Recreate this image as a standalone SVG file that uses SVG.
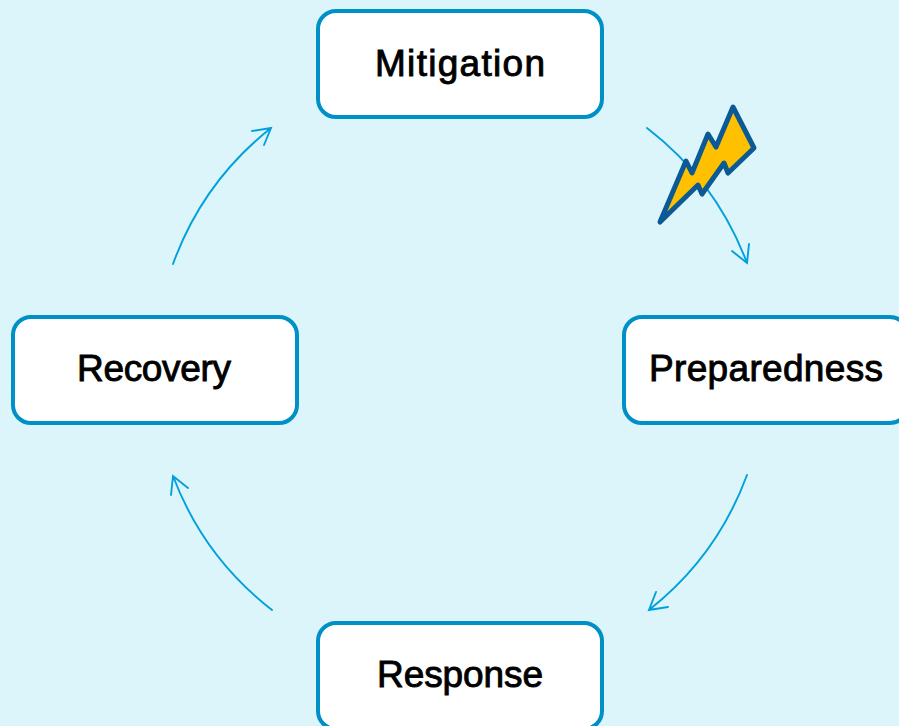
<svg xmlns="http://www.w3.org/2000/svg" width="899" height="726" viewBox="0 0 899 726">
<style>
.box{fill:#fff;stroke:#0090C8;stroke-width:4}
.lbl{font-family:"Liberation Sans",Arial,sans-serif;font-size:37px;fill:#000;text-anchor:middle;stroke:#000;stroke-width:.9}
.arc{fill:none;stroke:#00A0DC;stroke-width:1.9;stroke-linecap:round;stroke-linejoin:miter}
</style>
<rect width="899" height="726" fill="#DBF5FA"/>
<g id="connectors">
<path class="arc" d="M647 128A306.500 306.500 0 0 1 747 263M732 251L747 263L749 244"/>
<path class="arc" d="M747 475A306.500 306.500 0 0 1 649 610M656 592L649 610L668 607"/>
<path class="arc" d="M272 610A306.500 306.500 0 0 1 173 476M171 495L173 476L188 488"/>
<path class="arc" d="M173 264A306.500 306.500 0 0 1 271 128M252 131L271 128L264 145"/>
</g>
<g id="mitigation"><rect class="box" x="318" y="11" width="284" height="106" rx="18"/><text class="lbl" x="460" y="76" textLength="170">Mitigation</text></g>
<g id="preparedness"><rect class="box" x="624" y="317" width="284" height="106" rx="18"/><text class="lbl" x="766" y="381" textLength="234">Preparedness</text></g>
<g id="response"><rect class="box" x="318" y="623" width="284" height="106" rx="18"/><text class="lbl" x="460" y="687" textLength="166">Response</text></g>
<g id="recovery"><rect class="box" x="13" y="317" width="284" height="106" rx="18"/><text class="lbl" x="154" y="381" textLength="154">Recovery</text></g>
<g id="lightning"><polygon points="660,222 686,161 692,173 708,134 716,147 733,107 754,148 728,173 724,163 702,194 698,185" fill="#FFC000" stroke="#0B5A96" stroke-width="5" stroke-linejoin="round"/></g>
</svg>
